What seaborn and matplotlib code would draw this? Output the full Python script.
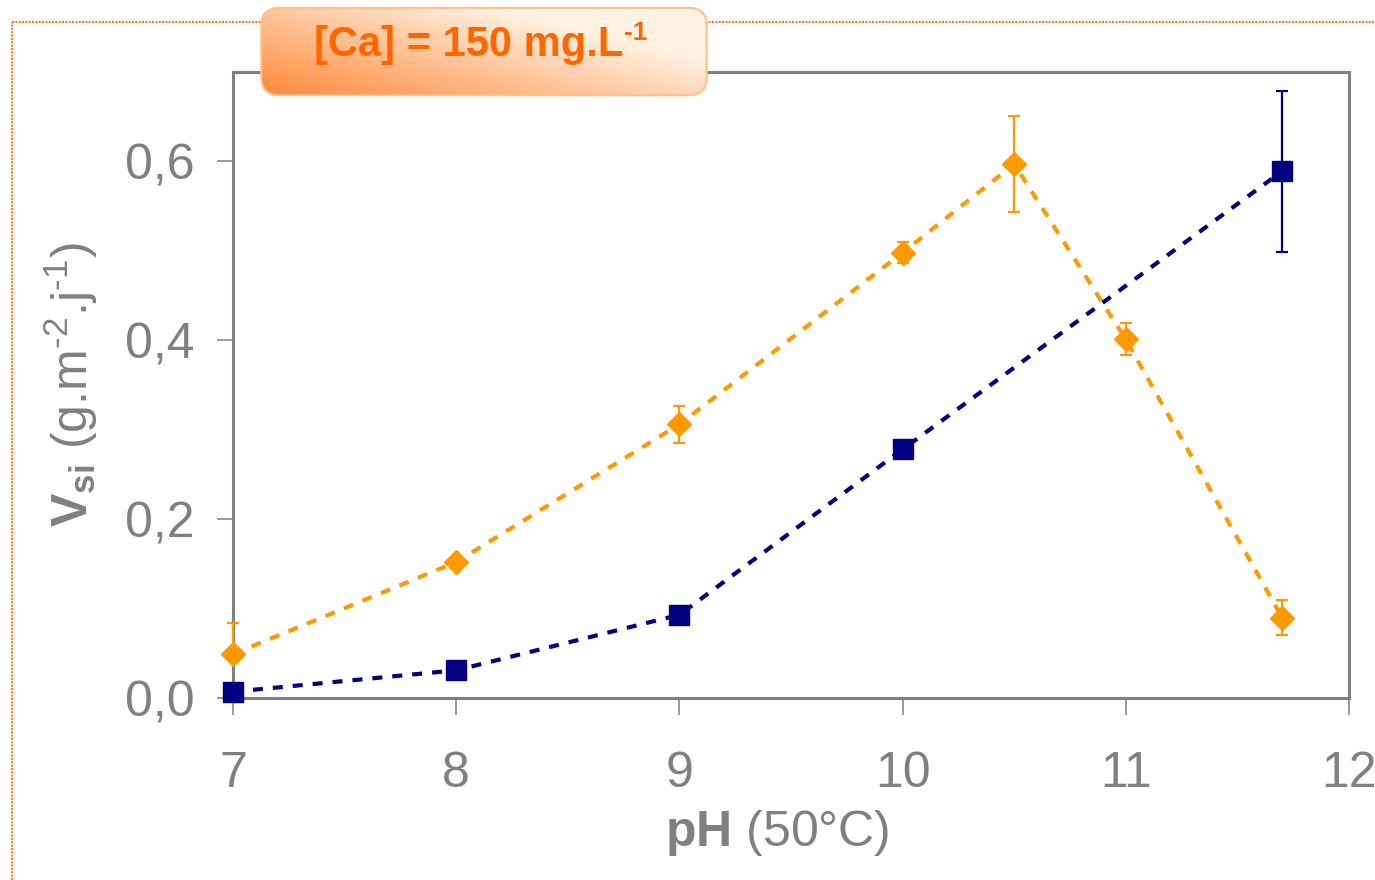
import numpy as np
import matplotlib
matplotlib.use("Agg")
import matplotlib.pyplot as plt
import seaborn as sns
import pandas as pd
from matplotlib.patches import FancyBboxPatch
from matplotlib.lines import Line2D

# ---- data ----
ph_orange = [7, 8, 9, 10, 10.5, 11, 11.7]
v_orange = [0.049, 0.152, 0.306, 0.498, 0.597, 0.401, 0.090]
err_orange_lo = [0.0, 0.0, 0.021, 0.012, 0.054, 0.018, 0.020]
err_orange_hi = [0.035, 0.0, 0.021, 0.012, 0.054, 0.018, 0.020]

ph_navy = [7, 8, 9, 10, 11.7]
v_navy = [0.007, 0.031, 0.093, 0.278, 0.589]
err_navy = [0.0, 0.0, 0.0, 0.0, 0.090]

xticks = [7, 8, 9, 10, 11, 12]
yticks = [0.0, 0.2, 0.4, 0.6]
ytick_labels = ["0,0", "0,2", "0,4", "0,6"]
badge_text = "[Ca] = 150 mg.L"
badge_sup = "-1"

ORANGE = "#FF9900"
NAVY = "#000080"
GREY = "#808080"

sns.set_theme(style="white")
plt.rcParams["font.family"] = ["Liberation Sans", "DejaVu Sans"]
plt.rcParams["mathtext.fontset"] = "custom"
plt.rcParams["mathtext.rm"] = "Liberation Sans"
plt.rcParams["mathtext.bf"] = "Liberation Sans:bold"
plt.rcParams["mathtext.it"] = "Liberation Sans:italic"
plt.rcParams["xtick.bottom"] = True
plt.rcParams["ytick.left"] = True
plt.rcParams["xtick.direction"] = "out"
plt.rcParams["ytick.direction"] = "out"

fig = plt.figure(figsize=(13.75, 8.8), dpi=100)
ax = fig.add_axes([233 / 1375, 1 - 698 / 880, (1349 - 233) / 1375, (698 - 72) / 880])

df_o = pd.DataFrame({"ph": ph_orange, "v": v_orange})
df_n = pd.DataFrame({"ph": ph_navy, "v": v_navy})

sns.lineplot(data=df_o, x="ph", y="v", ax=ax, color=ORANGE, lw=3,
             linestyle=(0, (2.4, 2.4)), sort=False, zorder=2)
sns.lineplot(data=df_n, x="ph", y="v", ax=ax, color=NAVY, lw=3,
             linestyle=(0, (2.4, 2.4)), sort=False, zorder=2)

for c in ax.errorbar(ph_orange, v_orange, yerr=[err_orange_lo, err_orange_hi], fmt="none",
                     ecolor=ORANGE, elinewidth=1.6, capsize=4.5, capthick=1.6, zorder=3).get_children():
    c.set_clip_on(False)
for c in ax.errorbar(ph_navy, v_navy, yerr=err_navy, fmt="none",
                     ecolor=NAVY, elinewidth=1.6, capsize=4.5, capthick=1.6, zorder=3).get_children():
    c.set_clip_on(False)

ax.plot(ph_orange, v_orange, linestyle="none", marker="D", ms=12,
        color=ORANGE, mec=ORANGE, zorder=4, clip_on=False)
ax.plot(ph_navy, v_navy, linestyle="none", marker="s", ms=15,
        color=NAVY, mec=NAVY, zorder=4, clip_on=False)

ax.set_xlim(7, 12)
ax.set_ylim(0, 0.7)
ax.set_xticks(xticks)
ax.set_yticks(yticks)
ax.set_yticklabels(ytick_labels)
ax.tick_params(axis="x", direction="out", length=12, width=1.1, color=GREY,
               labelcolor=GREY, labelsize=36, pad=26, bottom=True)
ax.tick_params(axis="y", direction="out", length=11.5, width=1.1, color=GREY,
               labelcolor=GREY, labelsize=36, pad=16, left=True)
for sp in ax.spines.values():
    sp.set_color(GREY)
    sp.set_linewidth(2.2)

ax.set_xlabel(r"$\mathbf{pH}$ (50°C)", fontsize=36, color=GREY, labelpad=8, x=0.488)
ax.set_ylabel(r"$\mathbf{V_{si}}$ (g.m$^{\text{-2}}$.j$^{\text{-1}}$)", fontsize=36,
              color=GREY, labelpad=18)
ax.grid(False)

# ---- outer dashed frame ----
fig.add_artist(Line2D([12 / 1375, 1.0], [1 - 22 / 880, 1 - 22 / 880], transform=fig.transFigure,
                      color="#FF7F27", lw=1.5, linestyle=(0, (1, 0.6)), zorder=0))
fig.add_artist(Line2D([12 / 1375, 12 / 1375], [0, 1 - 22 / 880], transform=fig.transFigure,
                      color="#FF7F27", lw=1.5, linestyle=(0, (1, 0.6)), zorder=0))

# ---- badge ----
bx0, bx1, by0, by1 = 259 / 1375, 709 / 1375, 1 - 97 / 880, 1 - 6 / 880
bax = fig.add_axes([bx0, by0, bx1 - bx0, by1 - by0])
bax.set_xlim(0, 1)
bax.set_ylim(0, 1)
bax.axis("off")
gx, gy = np.meshgrid(np.linspace(0, 1, 300), np.linspace(0, 1, 100))
t = np.clip(0.75 * gx + 0.6 * gy, 0, 1)
c0 = np.array([255, 135, 55]) / 255
c1 = np.array([255, 243, 228]) / 255
img = c0[None, None, :] * (1 - t[..., None]) + c1[None, None, :] * t[..., None]
patch = FancyBboxPatch((0.005, 0.02), 0.99, 0.96, boxstyle="round,pad=0,rounding_size=0.04",
                       transform=bax.transAxes, facecolor="none", edgecolor="#FFC08A", lw=1.5,
                       mutation_aspect=450 / 91)
bax.add_patch(patch)
im = bax.imshow(img, extent=[0, 1, 0, 1], origin="lower", aspect="auto", zorder=0)
im.set_clip_path(patch)
txt = bax.text(0.465, 0.57, badge_text, ha="center", va="center", fontsize=30, fontweight="bold",
               color="#FF6600", family=["Liberation Sans Narrow", "Liberation Sans"],
               transform=bax.transAxes)
fig.canvas.draw()
bb = txt.get_window_extent().transformed(bax.transAxes.inverted())
bax.text(bb.x1 + 0.002, bb.y1 + 0.04, badge_sup, ha="left", va="top", fontsize=19,
         fontweight="bold", color="#FF6600", transform=bax.transAxes)

fig.savefig("out.png", dpi=100)
